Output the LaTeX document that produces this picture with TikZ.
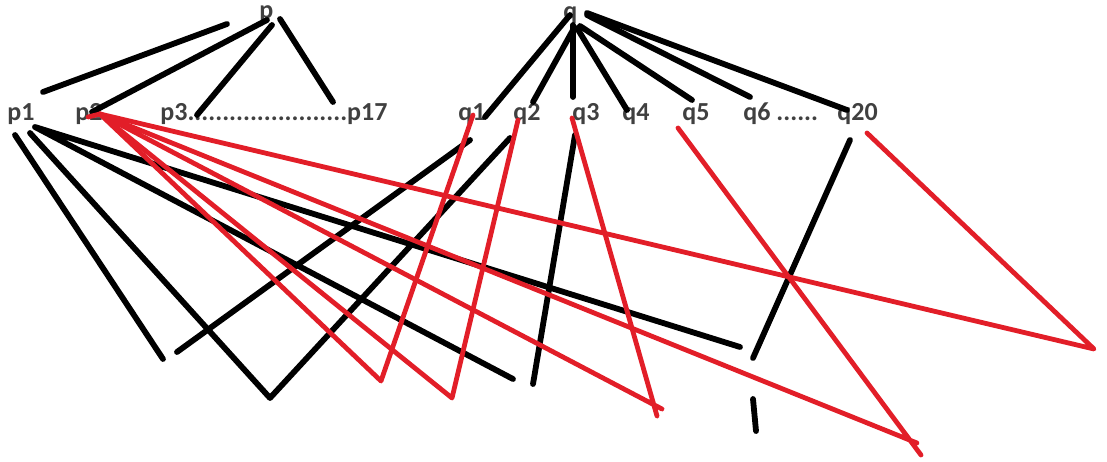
\documentclass[tikz,border=0pt]{standalone}
\usepackage{fontspec}
\setmainfont{Carlito}
\definecolor{penred}{RGB}{226,30,40}
\definecolor{inkgray}{RGB}{64,64,64}

\begin{document}
\begin{tikzpicture}[x=0.5pt, y=-0.5pt, line cap=round, line join=round,
      every node/.style={font=\fontsize{13}{15}\selectfont\bfseries, text=inkgray, inner sep=0pt, anchor=base west},
      blk/.style={draw=black, line width=2.9pt},
      rd/.style={draw=penred, line width=2.4pt}]
      \useasboundingbox (0,0) rectangle (1107,461);
      \node (p) at (259,18) {p};
      \node (q) at (563,19) {q};
      \node (p1) at (7,120) {p1};
      \node (p2) at (75,120) {p2};
      \node (p3) at (160,120) {p3.......................p17};
      \node (q1) at (458,120) {q1};
      \node (q2) at (513,120) {q2};
      \node (q3) at (572,120) {q3};
      \node (q4) at (622,120) {q4};
      \node (q5) at (682,120) {q5};
      \node (q6) at (743,120) {q6 ......};
      \node (q20) at (837,120) {q20};

      \coordinate (ta) at (43,92);   \coordinate (tb) at (227,24);
      \coordinate (pL) at (267,20);  \coordinate (pM) at (272,25);  \coordinate (pR) at (280,19);
      \coordinate (p2t) at (92,112); \coordinate (p3t) at (197,115); \coordinate (p17t) at (333,102);
      \coordinate (qa) at (570,15);  \coordinate (qb) at (573,30);  \coordinate (qc) at (573,25);
      \coordinate (qd) at (577,28);  \coordinate (qe) at (580,26);  \coordinate (qf) at (587,15);
      \coordinate (qg) at (587,13);
      \coordinate (q1t) at (485,117); \coordinate (q2t) at (533,102); \coordinate (q3t) at (573,97);
      \coordinate (q4t) at (627,110); \coordinate (q5t) at (692,100); \coordinate (q6t) at (750,97);
      \coordinate (q20t) at (847,110);

      \coordinate (p1a) at (15,135); \coordinate (p1b) at (30,133); \coordinate (p1c) at (35,127);
      \coordinate (b1) at (163,359); \coordinate (b2) at (270,398); \coordinate (b3) at (513,379);
      \coordinate (b4) at (740,347); \coordinate (b5) at (177,352); \coordinate (b6) at (533,384);
      \coordinate (b7) at (753,358); \coordinate (s1) at (753,399); \coordinate (s2) at (756,431);
      \coordinate (q1b) at (470,140); \coordinate (q2b) at (510,138); \coordinate (q3b) at (575,135);
      \coordinate (q20b) at (850,140);

      \coordinate (p2r) at (100,114); \coordinate (p2s) at (88,117);
      \coordinate (r1) at (1094,349); \coordinate (r2) at (917,443); \coordinate (r3) at (662,409);
      \coordinate (r4) at (452,398);  \coordinate (r5) at (381,381);
      \coordinate (q1r) at (473,115); \coordinate (q2r) at (518,120); \coordinate (q3r) at (572,118);
      \coordinate (q5r) at (678,128); \coordinate (q20r) at (867,133);
      \coordinate (r2e) at (921,455); \coordinate (r3e) at (657,416);

      \draw[blk] (ta) -- (tb);
      \draw[blk] (pL) -- (p2t) (pM) -- (p3t) (pR) -- (p17t);
      \foreach \a/\b in {qa/q1t, qb/q2t, qc/q3t, qd/q4t, qe/q5t, qf/q6t, qg/q20t}
        \draw[blk] (\a) -- (\b);
      \draw[blk] (p1a) -- (b1);
      \draw[blk] (p1b) -- (b2) -- (q2b);
      \draw[blk] (p1c) -- (b3) (p1c) -- (b4);
      \draw[blk] (b5) -- (q1b) (q3b) -- (b6) (q20b) -- (b7) (s1) -- (s2);

      \draw[rd] (p2s) -- (p2r);
      \foreach \e/\t in {r1/q20r, r4/q2r, r5/q1r}
        \draw[rd] (p2r) -- (\e) -- (\t);
      \draw[rd] (p2r) -- (r2) (q5r) -- (r2e);
      \draw[rd] (p2r) -- (r3) (q3r) -- (r3e);
    \end{tikzpicture}
\end{document}
